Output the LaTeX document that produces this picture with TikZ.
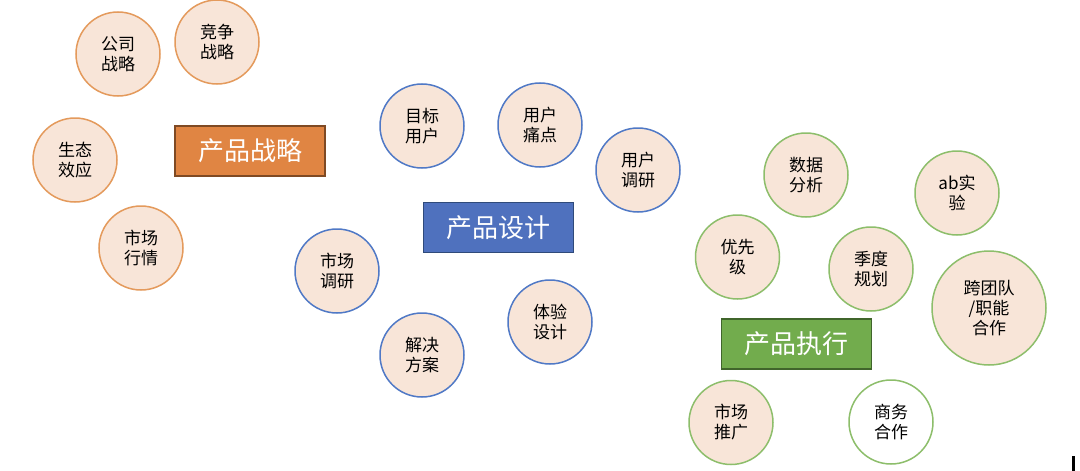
\documentclass[tikz,border=0pt]{standalone}
\usepackage{fontspec}
\setmainfont{Noto Sans CJK SC}
\definecolor{cfill}{HTML}{F8E5D8}
\definecolor{oring}{HTML}{E49A5C}
\definecolor{bring}{HTML}{5079C6}
\definecolor{gring}{HTML}{8DBE6B}
\definecolor{obox}{HTML}{E08543}
\definecolor{oboxd}{HTML}{7F4A24}
\definecolor{bbox}{HTML}{4F71BE}
\definecolor{bboxd}{HTML}{2F4A7A}
\definecolor{gbox}{HTML}{72AC4D}
\definecolor{gboxd}{HTML}{40652B}
\tikzset{
  bub/.style={circle, minimum size=84pt, inner sep=0pt, fill=cfill, line width=1.5pt, align=center, font=\fontsize{17}{20}\selectfont, text=black},
  obub/.style={bub, draw=oring},
  bbub/.style={bub, draw=bring},
  gbub/.style={bub, draw=gring},
  tbox/.style={rectangle, minimum width=150pt, minimum height=50pt, inner sep=0pt, line width=1.4pt, text=white, font=\fontsize{26}{30}\selectfont},
}
\begin{document}
\begin{tikzpicture}[x=1pt,y=-1pt]
\useasboundingbox[fill=white] (0,0) rectangle (1080,471);
% strategy
\node[obub] (gs) at (118,54) {公司\\战略};
\node[obub] (jz) at (217,42) {竞争\\战略};
\node[obub] (st) at (75,160) {生态\\效应};
\node[obub] (sc) at (141,248) {市场\\行情};
\node[tbox, fill=obox, draw=oboxd] (cpzl) at (250,151) {产品战略};
% design
\node[bbub] (mb) at (422,126) {目标\\用户};
\node[bbub] (td) at (540,125) {用户\\痛点};
\node[bbub] (dy) at (638,170) {用户\\调研};
\node[tbox, fill=bbox, draw=bboxd] (cpsj) at (498.5,227.5) {产品设计};
\node[bbub] (scdy) at (337,271) {市场\\调研};
\node[bbub] (jj) at (422,355) {解决\\方案};
\node[bbub] (ty) at (550,322) {体验\\设计};
% execution
\node[gbub] (sj) at (806,175) {数据\\分析};
\node[gbub] (ab) at (957,193) {ab实\\验};
\node[gbub] (yx) at (737.5,257) {优先\\级};
\node[gbub] (jd) at (871,269) {季度\\规划};
\node[gbub, minimum size=114pt] (kt) at (989,308) {跨团队\\/职能\\合作};
\node[tbox, fill=gbox, draw=gboxd] (cpzx) at (796.5,344) {产品执行};
\node[gbub] (tg) at (731,422.5) {市场\\推广};
\node[gbub, fill=white] (sw) at (891,422) {商务\\合作};
% small bar
\fill[black] (1072,456) rectangle (1075,471);
\end{tikzpicture}
\end{document}
